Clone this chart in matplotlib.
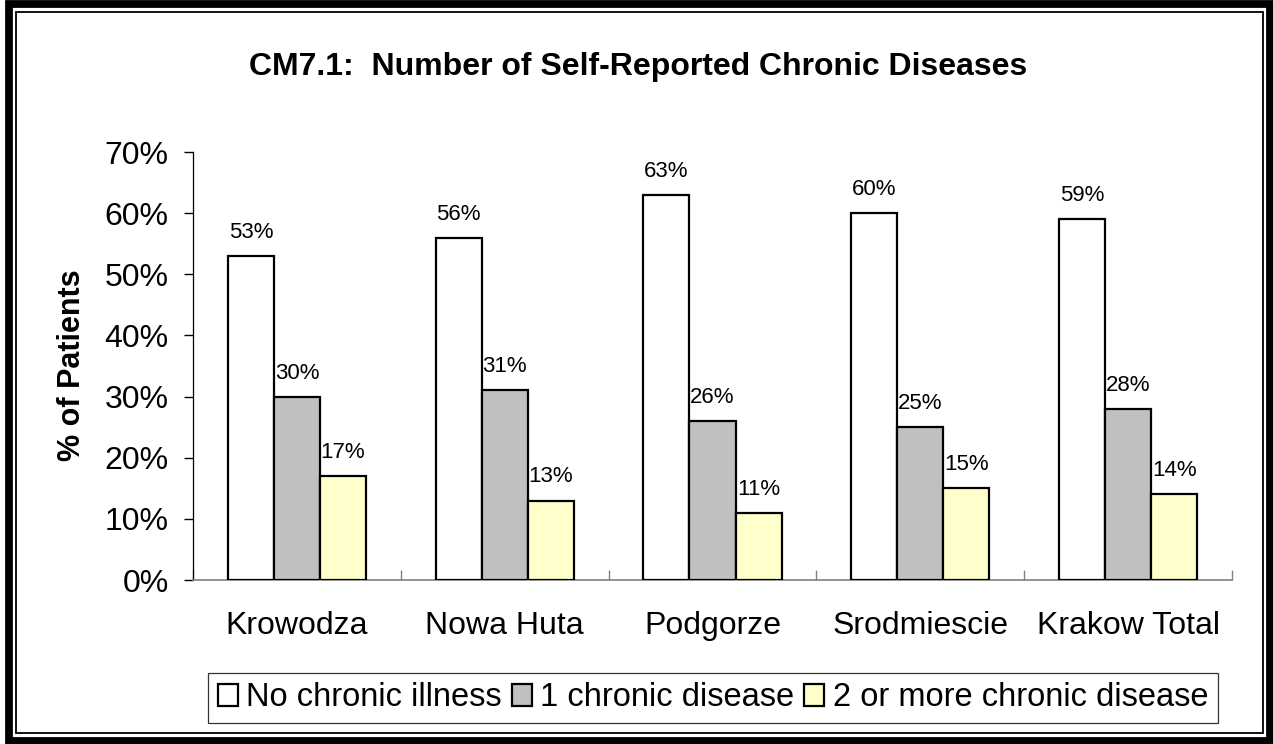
import numpy as np
import matplotlib
matplotlib.use("Agg")
import matplotlib.pyplot as plt
from matplotlib.patches import Rectangle

plt.rcParams['font.family'] = ['Liberation Sans', 'DejaVu Sans']

districts = ["Krowodza", "Nowa Huta", "Podgorze", "Srodmiescie", "Krakow Total"]
series_names = ["No chronic illness", "1 chronic disease", "2 or more chronic disease"]
no_chronic = [53, 56, 63, 60, 59]
one_chronic = [30, 31, 26, 25, 28]
two_plus = [17, 13, 11, 15, 14]
y_ticks = [0, 10, 20, 30, 40, 50, 60, 70]

W, H = 1273, 744
fig = plt.figure(figsize=(W / 100, H / 100), dpi=100)
ax = fig.add_axes([193 / W, 1 - 580 / H, (1232 - 193) / W, (580 - 152) / H])

colors = ["#FFFFFF", "#C0C0C0", "#FFFFCC"]
width = 0.2215
x = np.arange(len(districts)) + 0.5
for k, (vals, name) in enumerate(zip([no_chronic, one_chronic, two_plus], series_names)):
    pos = x + (k - 1) * width
    ax.bar(pos, np.array(vals) / 100, width, color=colors[k], edgecolor="black",
           linewidth=1.6, label=name, zorder=3)
    for px, v in zip(pos, vals):
        ax.annotate(f"{v}%", (px, v / 100), xytext=(0, 13), textcoords="offset points",
                    ha="center", va="baseline", fontsize=16)

ax.set_xlim(0, len(districts))
ax.set_ylim(0, 0.7)
ax.set_yticks(np.array(y_ticks) / 100)
ax.set_yticklabels([f"{t}%" for t in y_ticks], fontsize=23)
ax.tick_params(axis="y", direction="out", length=6.5, width=1, pad=11, colors="black")

ax.set_xticks(np.arange(len(districts) + 1))
ax.set_xticklabels([])
ax.tick_params(axis="x", which="major", direction="in", length=7, width=1, color="#808080")
ax.set_xticks(x, minor=True)
ax.set_xticklabels(districts, minor=True, fontsize=23)
ax.tick_params(axis="x", which="minor", length=0, pad=22)

ax.spines["top"].set_visible(False)
ax.spines["right"].set_visible(False)
ax.spines["bottom"].set_color("#808080")
ax.spines["bottom"].set_linewidth(1.2)
ax.spines["left"].set_linewidth(0.9)

fig.text(72 / W, 1 - 365 / H, "% of Patients", rotation=90, ha="center", va="center",
         fontsize=22, fontweight="bold")
fig.text(638 / W, 1 - 67 / H, "CM7.1:  Number of Self-Reported Chronic Diseases",
         ha="center", va="center", fontsize=23, fontweight="bold")

leg = fig.legend(loc="center", bbox_to_anchor=(713 / W, 1 - 698 / H), ncol=3, fontsize=23.5,
                 frameon=True, fancybox=False, edgecolor="black", handlelength=0.62,
                 handleheight=0.62, handletextpad=0.25, columnspacing=0.3, borderpad=0.3,
                 borderaxespad=0)
leg.get_frame().set_linewidth(0.9)

# double frame around the figure
fig.add_artist(Rectangle((9 / W, 3.5 / H), (1269.5 - 9) / W, (740 - 3.5) / H,
                         transform=fig.transFigure, fill=False, edgecolor="black", linewidth=5.6))
fig.add_artist(Rectangle((16 / W, (744 - 733) / H), (1263 - 16) / W, (733 - 12) / H,
                         transform=fig.transFigure, fill=False, edgecolor="black", linewidth=1.3))

fig.savefig("out.png", dpi=100)
